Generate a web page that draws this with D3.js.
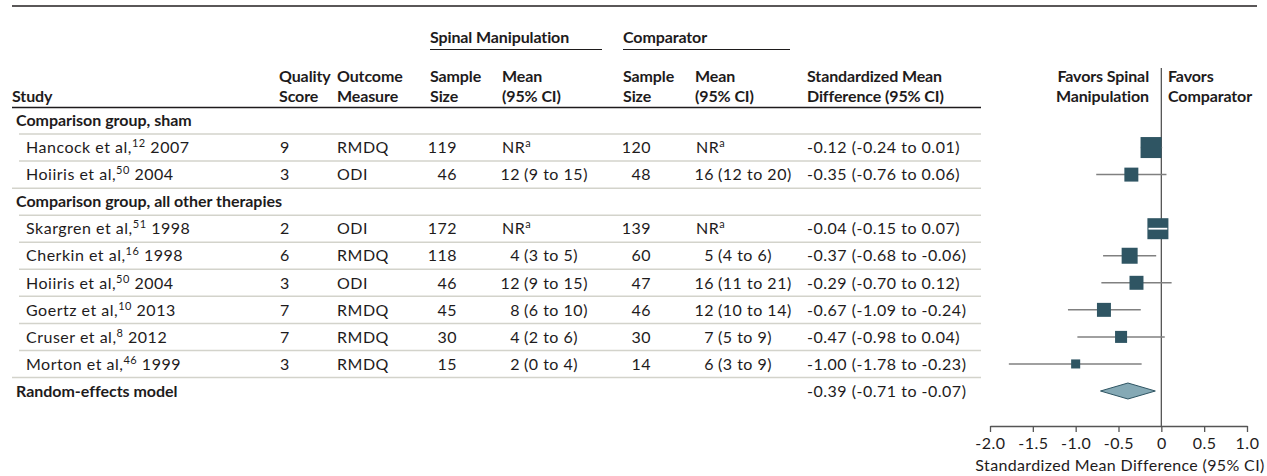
<!DOCTYPE html>
<html><head><meta charset="utf-8">
<script src="https://cdn.jsdelivr.net/npm/d3@7"></script>
<style>
html,body{margin:0;padding:0;background:#fff;}
svg{display:block;font-family:Lato,"Open Sans",sans-serif;}
</style></head><body>
<svg id="c" width="1267" height="476"></svg>
<script>
// ---- data ----
const groups = ["Comparison group, sham", "Comparison group, all other therapies"];
const studies = ["Hancock et al,", "Hoiiris et al,", "Skargren et al,", "Cherkin et al,", "Hoiiris et al,", "Goertz et al,", "Cruser et al,", "Morton et al,"];
const refs = ["12", "50", "51", "16", "50", "10", "8", "46"];
const years = ["2007", "2004", "1998", "1998", "2004", "2013", "2012", "1999"];
const studyGroup = [0, 0, 1, 1, 1, 1, 1, 1];
const quality = [9, 3, 2, 6, 3, 7, 7, 3];
const outcome = ["RMDQ", "ODI", "ODI", "RMDQ", "ODI", "RMDQ", "RMDQ", "RMDQ"];
const spN = [119, 46, 172, 118, 46, 45, 30, 15];
const spMean = [null, 12, null, 4, 12, 8, 4, 2];
const spLo = [null, 9, null, 3, 9, 6, 2, 0];
const spHi = [null, 15, null, 5, 15, 10, 6, 4];
const cmpN = [120, 48, 139, 60, 47, 46, 30, 14];
const cmpMean = [null, 16, null, 5, 16, 12, 7, 6];
const cmpLo = [null, 12, null, 4, 11, 10, 5, 3];
const cmpHi = [null, 20, null, 6, 21, 14, 9, 9];
const smd = [-0.12, -0.35, -0.04, -0.37, -0.29, -0.67, -0.47, -1.00];
const smdLo = [-0.24, -0.76, -0.15, -0.68, -0.70, -1.09, -0.98, -1.78];
const smdHi = [0.01, 0.06, 0.07, -0.06, 0.12, -0.24, 0.04, -0.23];
const weight = [22.6, 10.0, 22.6, 13.1, 10.0, 10.0, 7.4, 4.2];
const pooledLabel = "Random-effects model";
const pooled = [-0.39, -0.71, -0.07];
const xTicks = [-2.0, -1.5, -1.0, -0.5, 0, 0.5, 1.0];
const xTickLabels = ["-2.0", "-1.5", "-1.0", "-0.5", "0", "0.5", "1.0"];
const axisTitle = "Standardized Mean Difference (95% CI)";

// ---- layout ----
const svg = d3.select("#c");
const TXT = "#1e1b1c", MARK = "#2f5563", GRID = "#d3d3cb";
const FS = 16;

// calibrate letter spacing so text widths match the reference
function spacingFor(sample, bold, target) {
  const t = svg.append("text").attr("font-size", FS).attr("font-weight", bold ? 700 : 400).text(sample);
  const w = t.node().getComputedTextLength();
  t.remove();
  return (target - w) / sample.length;
}
const LS = spacingFor("-0.12 (-0.24 to 0.01)", false, 153);
const LSB = spacingFor("Comparison group, all other therapies", true, 266);
const LSH = spacingFor("Standardized Mean", true, 135);

const x = d3.scaleLinear().domain([-2, 1]).range([990, 1247]);
const size = d3.scaleSqrt().domain([0, d3.max(weight)]).range([0, 21]);

// build row list
const rows = [];
groups.forEach((g, gi) => {
  rows.push({type: "group", label: g});
  studies.forEach((s, i) => { if (studyGroup[i] === gi) rows.push({type: "study", i}); });
});
rows.push({type: "pooled"});
const y = d3.scaleLinear().domain([0, rows.length - 1]).range([120.5, 391]);

const fmt = v => (v < 0 ? "-" : "") + Math.abs(v).toFixed(2);
const fmtCI = (m, l, h) => `${fmt(m)} (${fmt(l)} to ${fmt(h)})`;

// top rule
svg.append("line").attr("x1", 12).attr("x2", 1257).attr("y1", 6).attr("y2", 6)
  .attr("stroke", "#231f20").attr("stroke-width", 1.5);

// headers
const hdr = svg.append("g").attr("fill", TXT).attr("font-size", FS).attr("font-weight", 700).attr("letter-spacing", LSH);
hdr.append("text").attr("x", 430).attr("y", 43).text("Spinal Manipulation");
hdr.append("text").attr("x", 623).attr("y", 43).text("Comparator");
svg.append("line").attr("x1", 430).attr("x2", 602).attr("y1", 49.5).attr("y2", 49.5).attr("stroke", TXT).attr("stroke-width", 1);
svg.append("line").attr("x1", 623).attr("x2", 790).attr("y1", 49.5).attr("y2", 49.5).attr("stroke", TXT).attr("stroke-width", 1);

const colHeads = [
  {x: 12, l: ["", "Study"]},
  {x: 279, l: ["Quality", "Score"]},
  {x: 337, l: ["Outcome", "Measure"]},
  {x: 430, l: ["Sample", "Size"]},
  {x: 502, l: ["Mean", "(95% CI)"]},
  {x: 623, l: ["Sample", "Size"]},
  {x: 695, l: ["Mean", "(95% CI)"]},
  {x: 807, l: ["Standardized Mean", "Difference (95% CI)"]},
];
colHeads.forEach(c => {
  c.l.forEach((t, k) => { if (t) hdr.append("text").attr("x", c.x).attr("y", 81.5 + k * 20.5).text(t); });
});
hdr.append("text").attr("x", 1149).attr("y", 81.5).attr("text-anchor", "end").text("Favors Spinal");
hdr.append("text").attr("x", 1149).attr("y", 102).attr("text-anchor", "end").text("Manipulation");
hdr.append("text").attr("x", 1168).attr("y", 81.5).text("Favors");
hdr.append("text").attr("x", 1168).attr("y", 102).text("Comparator");

svg.append("line").attr("x1", 12).attr("x2", 981).attr("y1", 107.5).attr("y2", 107.5)
  .attr("stroke", TXT).attr("stroke-width", 1.5);

// row separators
for (let r = 0; r < rows.length - 1; r++) {
  const next = rows[r + 1];
  const x1 = (next.type === "study") ? 19 : 12;
  const yy = (y(r) + y(r + 1)) / 2;
  svg.append("line").attr("x1", x1).attr("x2", 981).attr("y1", yy).attr("y2", yy)
    .attr("stroke", GRID).attr("stroke-width", 1.5);
}

// zero line
svg.append("line").attr("x1", x(0)).attr("x2", x(0)).attr("y1", 68).attr("y2", 426)
  .attr("stroke", "#555").attr("stroke-width", 1.3);

const body = svg.append("g").attr("fill", TXT).attr("font-size", FS).attr("letter-spacing", LS);
function sup(t, base, s, after) {
  t.append("tspan").text(base);
  t.append("tspan").attr("font-size", 11).attr("dy", -6).text(s);
  if (after != null) t.append("tspan").attr("dy", 6).text(after);
}
rows.forEach((row, r) => {
  const cy = y(r) + 5.7;
  if (row.type === "group") {
    body.append("text").attr("x", 16).attr("y", cy).attr("font-weight", 700).attr("letter-spacing", LSB).text(row.label);
    return;
  }
  if (row.type === "pooled") {
    body.append("text").attr("x", 16).attr("y", cy).attr("font-weight", 700).attr("letter-spacing", LSB).text(pooledLabel);
    body.append("text").attr("x", 807).attr("y", cy).text(fmtCI(pooled[0], pooled[1], pooled[2]));
    return;
  }
  const i = row.i;
  sup(body.append("text").attr("x", 26).attr("y", cy), studies[i], refs[i], " " + years[i]);
  body.append("text").attr("x", 280).attr("y", cy).text(quality[i]);
  body.append("text").attr("x", 337).attr("y", cy).text(outcome[i]);
  body.append("text").attr("x", 457).attr("y", cy).attr("text-anchor", "end").text(spN[i]);
  if (spMean[i] == null) sup(body.append("text").attr("x", 502).attr("y", cy), "NR", "a", null);
  else {
    body.append("text").attr("x", 520).attr("y", cy).attr("text-anchor", "end").text(spMean[i]);
    body.append("text").attr("x", 524).attr("y", cy).text(`(${spLo[i]} to ${spHi[i]})`);
  }
  body.append("text").attr("x", 651).attr("y", cy).attr("text-anchor", "end").text(cmpN[i]);
  if (cmpMean[i] == null) sup(body.append("text").attr("x", 696).attr("y", cy), "NR", "a", null);
  else {
    body.append("text").attr("x", 714).attr("y", cy).attr("text-anchor", "end").text(cmpMean[i]);
    body.append("text").attr("x", 718).attr("y", cy).text(`(${cmpLo[i]} to ${cmpHi[i]})`);
  }
  body.append("text").attr("x", 807).attr("y", cy).text(fmtCI(smd[i], smdLo[i], smdHi[i]));

  // forest marks
  const yc = y(r), s = size(weight[i]);
  const inside = x(smdLo[i]) >= x(smd[i]) - s / 2 && x(smdHi[i]) <= x(smd[i]) + s / 2;
  if (!inside) svg.append("line").attr("x1", x(smdLo[i])).attr("x2", x(smdHi[i])).attr("y1", yc).attr("y2", yc)
    .attr("stroke", "#808080").attr("stroke-width", 1.5);
  svg.append("rect").attr("x", x(smd[i]) - s / 2).attr("y", yc - s / 2).attr("width", s).attr("height", s).attr("fill", MARK);
  if (inside) svg.append("line").attr("x1", x(smdLo[i])).attr("x2", x(smdHi[i])).attr("y1", yc).attr("y2", yc)
    .attr("stroke", "#fff").attr("stroke-width", 1.8);
});

// pooled diamond
const yp = y(rows.length - 1);
svg.append("path")
  .attr("d", `M${x(pooled[1])},${yp}L${x(pooled[0])},${yp - 8}L${x(pooled[2])},${yp}L${x(pooled[0])},${yp + 8}Z`)
  .attr("fill", "#85a9b5").attr("stroke", "#2f5563").attr("stroke-width", 1);

// axis
const ax = svg.append("g").attr("transform", "translate(0,426)")
  .call(d3.axisBottom(x).tickValues(xTicks).tickFormat((d, k) => xTickLabels[k]).tickSize(6).tickSizeOuter(0));
ax.select(".domain").attr("stroke", "#555").attr("stroke-width", 1.3);
ax.selectAll(".tick line").attr("stroke", "#555").attr("stroke-width", 1.3);
ax.selectAll(".tick text").attr("font-family", "Lato,sans-serif").attr("font-size", FS).attr("letter-spacing", LS)
  .attr("fill", TXT).attr("y", 9).attr("dy", "0.9em");
svg.append("text").attr("x", 1120).attr("y", 470.5).attr("text-anchor", "middle").attr("font-size", FS)
  .attr("letter-spacing", LS * 0.7).attr("fill", TXT).text(axisTitle);
</script>
</body></html>
